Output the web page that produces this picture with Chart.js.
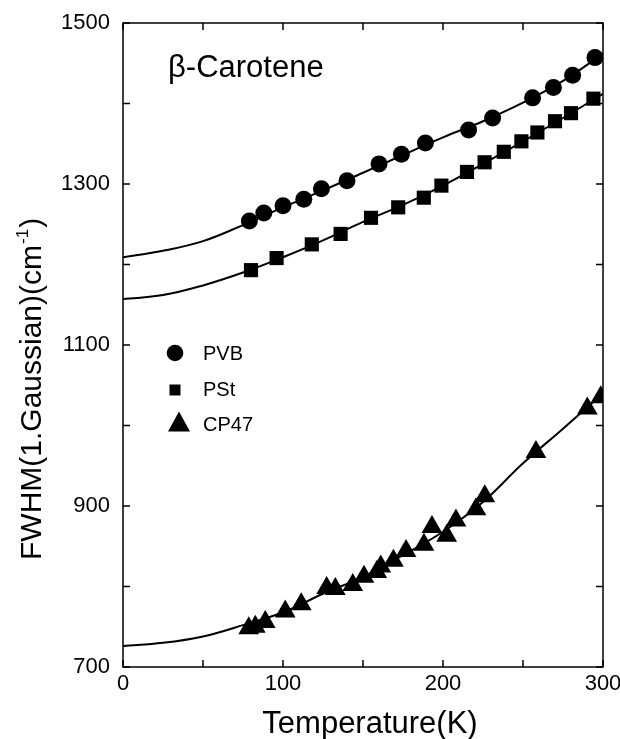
<!DOCTYPE html>
<html>
<head>
<meta charset="utf-8">
<script src="https://cdn.jsdelivr.net/npm/chart.js@4/dist/chart.umd.min.js"></script>
<style>
  body { margin: 0; background: #fff; }
  #wrap { width: 620px; height: 739px; }
</style>
</head>
<body>
<div id="wrap"><canvas id="myChart" width="620" height="739"></canvas></div>
<script>
// measured points (K, cm-1)
var pvbT = [79, 88, 100, 113, 124, 140, 160, 174, 189, 216, 231, 256, 269, 281, 295];
var pvbW = [1254, 1264, 1273, 1281, 1294, 1304, 1325, 1337, 1351, 1367, 1382, 1407, 1420, 1435, 1457];

var pstT = [80, 96, 118, 136, 155, 172, 188, 199, 215, 226, 238, 249, 259, 270, 280, 294];
var pstW = [1193, 1208, 1225, 1238, 1258, 1271, 1283, 1298, 1315, 1327, 1340, 1353, 1364, 1378, 1388, 1406];

var cpT = [78.6, 82.7, 88.9, 101.4, 111.4, 127.3, 132.7, 143.6, 150.6, 158.6, 161.1, 169, 176.9, 188.1, 193.1, 202.3, 208.1, 220.6, 226.1, 258.1, 290.2, 298.6];
var cpW = [748, 750, 756, 769, 778, 798, 797, 802, 812, 818, 825, 832, 844, 852, 874, 863, 882, 896, 912, 967, 1021, 1035];

// fitted curves
var fitT   = [0, 25, 50, 75, 100, 125, 150, 175, 200, 225, 250, 275, 300];
var pvbFit = [1209, 1217, 1229, 1249, 1271, 1292, 1314, 1336, 1358, 1378, 1401, 1428, 1462];
var pstFit = [1157, 1162, 1174, 1190, 1209, 1230, 1253, 1274, 1298, 1325, 1353, 1382, 1412];
var cpFit  = [726, 730, 738, 752, 768, 791, 812, 839, 868, 905, 953, 996, 1040];

var xTicks = [0, 100, 200, 300];
var yTicks = [700, 900, 1100, 1300, 1500];
var legendNames = ["PVB", "PSt", "CP47"];

function pts(xs, ys) {
  return xs.map(function (x, i) { return {x: x, y: ys[i]}; });
}
var FONT = "'Liberation Sans', Arial, Helvetica, sans-serif";

function shape(ctx, style, x, y, r) {
  ctx.beginPath();
  if (style == "circle") {
    ctx.arc(x, y, r, 0, Math.PI * 2);
  } else if (style == "rect") {
    ctx.rect(x - r, y - r, 2 * r, 2 * r);
  } else {
    ctx.moveTo(x, y - r * 1.05);
    ctx.lineTo(x + r * 1.1, y + r * 0.95);
    ctx.lineTo(x - r * 1.1, y + r * 0.95);
    ctx.closePath();
  }
  ctx.fill();
}

var decor = {
  id: "decor",
  afterDraw: function (chart) {
    var ctx = chart.ctx, a = chart.chartArea;
    var xs = chart.scales.x, ys = chart.scales.y;
    ctx.save();
    ctx.strokeStyle = "#000";
    ctx.fillStyle = "#000";
    ctx.lineWidth = 1.5;
    ctx.strokeRect(a.left, a.top, a.right - a.left, a.bottom - a.top);
    // inward ticks on all sides
    ctx.beginPath();
    for (var v = 0; v <= 300; v += 50) {
      var px = xs.getPixelForValue(v);
      ctx.moveTo(px, a.bottom); ctx.lineTo(px, a.bottom - 7);
      ctx.moveTo(px, a.top); ctx.lineTo(px, a.top + 7);
    }
    for (var w = 700; w <= 1500; w += 100) {
      var py = ys.getPixelForValue(w);
      ctx.moveTo(a.left, py); ctx.lineTo(a.left + 7, py);
      ctx.moveTo(a.right, py); ctx.lineTo(a.right - 7, py);
    }
    ctx.stroke();

    // compound name
    ctx.font = "31px " + FONT;
    ctx.textBaseline = "alphabetic";
    ctx.textAlign = "left";
    ctx.fillText("\u03B2-Carotene", 168, 77);

    // legend
    var styles = ["circle", "rect", "tri"];
    var sizes = [8.3, 5.5, 10];
    var lx = [175, 175, 179];
    var ly = [353, 390, 422];
    var base = [360, 396, 431];
    ctx.font = "20px " + FONT;
    for (var i = 0; i < legendNames.length; i++) {
      shape(ctx, styles[i], lx[i], ly[i], sizes[i]);
      ctx.fillText(legendNames[i], 203, base[i]);
    }

    // x title
    ctx.font = "31px " + FONT;
    ctx.textAlign = "center";
    ctx.fillText("Temperature(K)", 370, 733);

    // y title with superscript
    ctx.translate(41, 560);
    ctx.rotate(-Math.PI / 2);
    ctx.textAlign = "left";
    ctx.font = "30px " + FONT;
    var s1 = "FWHM(1.Gaussian)(cm";
    ctx.fillText(s1, 0, 0);
    var w1 = ctx.measureText(s1).width;
    ctx.font = "17px " + FONT;
    ctx.fillText("-1", w1 + 1, -13);
    var w2 = ctx.measureText("-1").width;
    ctx.font = "30px " + FONT;
    ctx.fillText(")", w1 + w2 + 2, 0);
    ctx.restore();
  }
};

new Chart("myChart", {
  type: "scatter",
  data: {
    datasets: [
      { data: pts(fitT, pvbFit), showLine: true, borderColor: "#000", borderWidth: 2, pointRadius: 0, tension: 0.4 },
      { data: pts(fitT, pstFit), showLine: true, borderColor: "#000", borderWidth: 2, pointRadius: 0, tension: 0.4 },
      { data: pts(fitT, cpFit), showLine: true, borderColor: "#000", borderWidth: 2, pointRadius: 0, tension: 0.4 },
      { label: "PVB", data: pts(pvbT, pvbW), pointStyle: "circle", pointRadius: 8.5, backgroundColor: "#000", borderWidth: 0 },
      { label: "PSt", data: pts(pstT, pstW), pointStyle: "rect", pointRadius: 10, backgroundColor: "#000", borderWidth: 0 },
      { label: "CP47", data: pts(cpT, cpW), pointStyle: "triangle", pointRadius: 12, backgroundColor: "#000", borderWidth: 0 }
    ]
  },
  options: {
    responsive: false,
    animation: false,
    events: [],
    layout: { padding: { left: 0, right: 17, top: 23, bottom: 0 } },
    plugins: { legend: { display: false }, tooltip: { enabled: false } },
    scales: {
      x: {
        type: "linear", min: 0, max: 300,
        grid: { display: false, drawTicks: false },
        border: { display: false },
        afterBuildTicks: function (s) { s.ticks = xTicks.map(function (v) { return {value: v}; }); },
        afterFit: function (s) { s.height = 72; s.paddingLeft = 0; s.paddingRight = 0; },
        ticks: { color: "#000", padding: 4, maxRotation: 0, font: { size: 22, family: FONT },
                 callback: function (v) { return String(v); } }
      },
      y: {
        type: "linear", min: 700, max: 1500,
        grid: { display: false, drawTicks: false },
        border: { display: false },
        afterBuildTicks: function (s) { s.ticks = yTicks.map(function (v) { return {value: v}; }); },
        afterFit: function (s) { s.width = 123; s.paddingTop = 0; s.paddingBottom = 0; },
        ticks: { color: "#000", padding: 13, font: { size: 22, family: FONT },
                 callback: function (v) { return String(v); } }
      }
    }
  },
  plugins: [decor]
});
</script>
</body>
</html>
